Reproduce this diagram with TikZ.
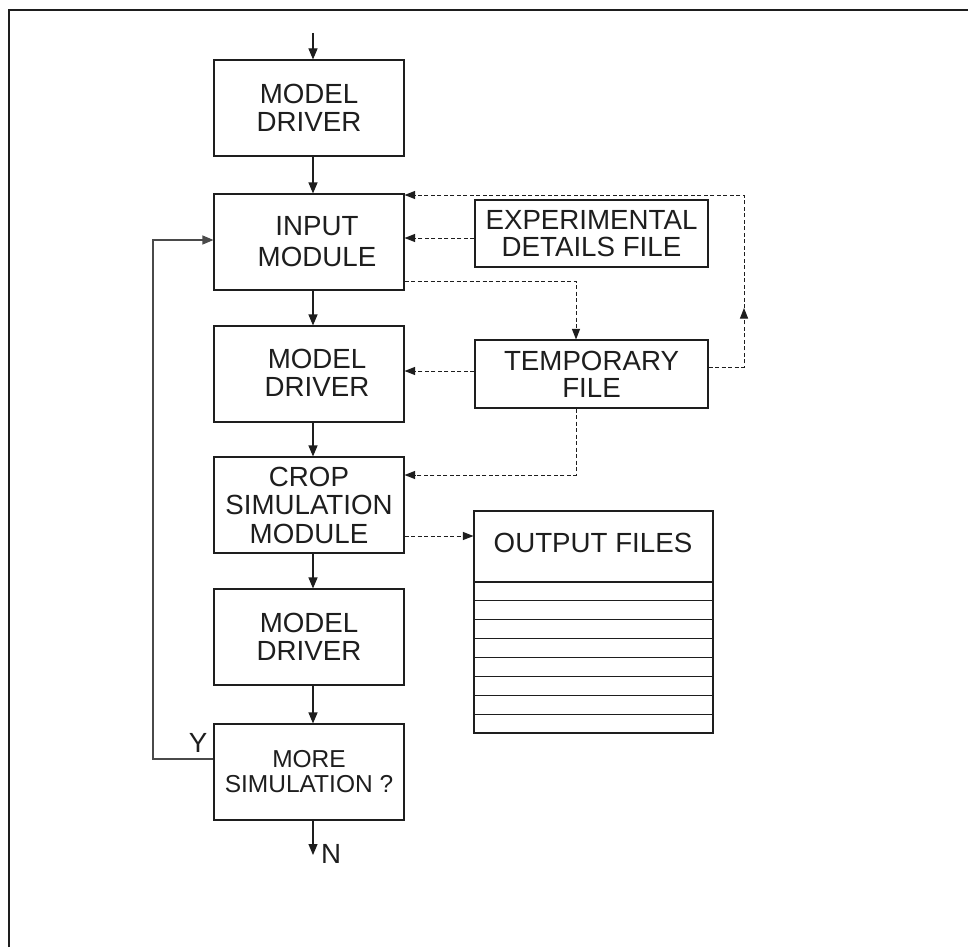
\documentclass[tikz,border=0pt]{standalone}
\usepackage{fontspec}
\setmainfont{Liberation Sans}
\usetikzlibrary{arrows.meta}
\definecolor{ink}{HTML}{1E1E1E}
\definecolor{loopgray}{HTML}{4A4A4A}
\begin{document}
\begin{tikzpicture}[x=1pt,y=-1pt,
  box/.style={draw=ink, line width=1.1pt, minimum width=190pt, minimum height=96pt,
    inner sep=0pt, align=center, text=ink, font=\fontsize{27.7}{28.5}\selectfont},
  filebox/.style={box, minimum width=233pt, minimum height=67pt,
    font=\fontsize{27.7}{27}\selectfont},
  txt/.style={inner sep=0pt, align=center, text=ink, font=\fontsize{27.7}{28.5}\selectfont},
  flow/.style={draw=ink, line width=1.1pt, -{Triangle[length=11pt,width=9pt]}},
  dsh/.style={draw=ink, line width=1pt, dash pattern=on 4pt off 2.5pt,
    -{Triangle[length=10.5pt,width=8pt]}},
]
\useasboundingbox (0,0) rectangle (968,947);
\fill[white] (0,0) rectangle (968,947);
% frame
\draw[ink, line width=2pt] (9,947) -- (9,10) -- (968,10);

% main column
\node[box] (drv1) at (309,108) {MODEL\\DRIVER};
\node[box] (inp) at (309,242) {};
\node[txt, font=\fontsize{27.7}{31}\selectfont] (inptxt) at (317,242) {INPUT\\MODULE};
\node[box] (drv2) at (309,374) {};
\node[txt] (drv2txt) at (317,373) {MODEL\\DRIVER};
\node[box] (crop) at (309,505) {CROP\\SIMULATION\\MODULE};
\node[box] (drv3) at (309,637) {MODEL\\DRIVER};
\node[box, font=\fontsize{24.5}{25}\selectfont] (more) at (309,772) {MORE\\SIMULATION ?};

% files
\node[filebox] (exp) at (591.5,233.5) {EXPERIMENTAL\\DETAILS FILE};
\node[filebox, minimum height=68pt] (tmp) at (591.5,374) {TEMPORARY\\FILE};
\node[draw=ink, line width=1.1pt, minimum width=239pt, minimum height=222pt, inner sep=0pt] (out) at (593.5,622) {};
\node[txt] (outtxt) at (593,543) {OUTPUT FILES};
\foreach \i in {0,...,7}
  \draw[ink, line width=1.1pt] (out.west |- 0,{582+\i*18.875}) -- (out.east |- 0,{582+\i*18.875});

% solid flow
\coordinate (ax) at (313,0);
\coordinate (start) at (313,33);
\coordinate (nend) at (313,855);
\draw[flow] (start) -- (drv1.north -| ax);
\draw[flow] (drv1.south -| ax) -- (inp.north -| ax);
\draw[flow] (inp.south -| ax) -- (drv2.north -| ax);
\draw[flow] (drv2.south -| ax) -- (crop.north -| ax);
\draw[flow] (crop.south -| ax) -- (drv3.north -| ax);
\draw[flow] (drv3.south -| ax) -- (more.north -| ax);
\draw[flow] (more.south -| ax) -- (nend);
\node[txt, anchor=west] (nlbl) at (321,854) {N};
\node[txt] (ylbl) at (198,743) {Y};

% loop back
\coordinate (lb) at (153,759);
\coordinate (lt) at (153,240);
\draw[flow, draw=loopgray] (more.west |- lb) -- (lb) -- (lt) -- (inp.west |- lt);

% file connections
\coordinate (rx) at (744,195);
\coordinate (rup) at (744,308);
\coordinate (ry) at (744,367);
\draw[dsh] (tmp.east |- ry) -- (ry) -- (rup);
\draw[dsh] (rup) -- (rx) -- (inp.east |- rx);
\coordinate (e1) at (0,238);
\draw[dsh] (exp.west |- e1) -- (inp.east |- e1);
\coordinate (t1) at (576,281);
\draw[dsh] (inp.east |- t1) -- (t1) -- (tmp.north -| t1);
\coordinate (t2) at (0,371);
\draw[dsh] (tmp.west |- t2) -- (drv2.east |- t2);
\coordinate (c1) at (576,475);
\draw[dsh] (tmp.south -| c1) -- (c1) -- (crop.east |- c1);
\coordinate (o1) at (0,536);
\draw[dsh] (crop.east |- o1) -- (out.west |- o1);
\end{tikzpicture}
\end{document}
